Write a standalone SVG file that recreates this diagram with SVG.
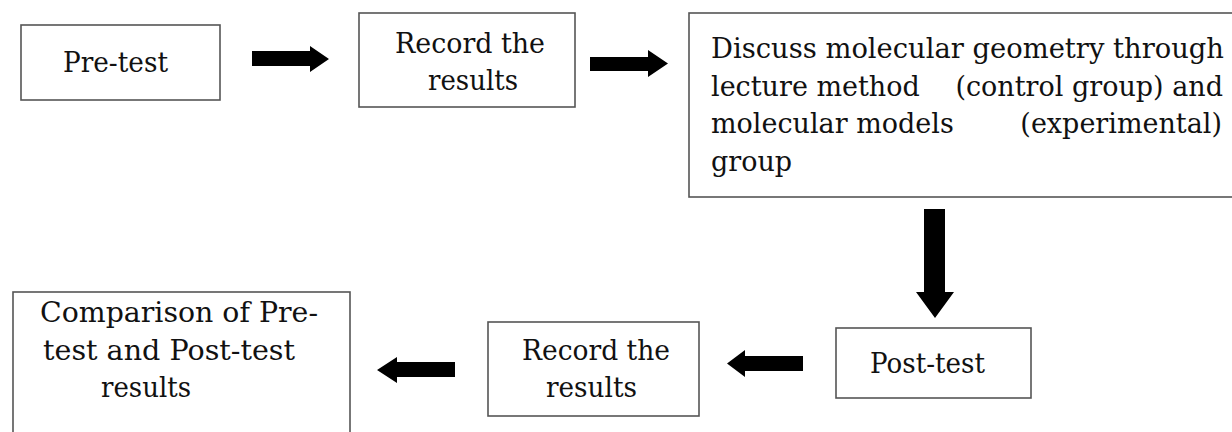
<svg xmlns="http://www.w3.org/2000/svg" width="1232" height="432" viewBox="0 0 1232 432">
<style>
.box{fill:#fff;stroke:#555;stroke-width:1.6}
.t{font-family:"DejaVu Serif","Liberation Serif",serif;font-size:27px;fill:#111}
.arr{fill:#000}
</style>
<rect width="1232" height="432" fill="#fff"/>
<g id="pretest">
<rect class="box" x="21" y="25" width="199" height="75"/>
<text class="t" x="63" y="72" textLength="105" lengthAdjust="spacingAndGlyphs">Pre-test</text>
</g>
<g id="record1">
<rect class="box" x="359" y="13" width="216" height="94"/>
<text class="t" x="395" y="53" textLength="150" lengthAdjust="spacingAndGlyphs">Record the</text>
<text class="t" x="428" y="90" textLength="90" lengthAdjust="spacingAndGlyphs">results</text>
</g>
<g id="discuss">
<rect class="box" x="689" y="13" width="560" height="184"/>
<text class="t" x="711" y="58" textLength="513" lengthAdjust="spacingAndGlyphs">Discuss molecular geometry through</text>
<text class="t" x="711" y="95.5">lecture method</text>
<text class="t" x="1223" y="95.5" text-anchor="end">(control group) and</text>
<text class="t" x="711" y="133">molecular models</text>
<text class="t" x="1222" y="133" text-anchor="end">(experimental)</text>
<text class="t" x="711" y="170.5">group</text>
</g>
<g id="posttest">
<rect class="box" x="836" y="328" width="195" height="70"/>
<text class="t" x="870" y="373" textLength="115" lengthAdjust="spacingAndGlyphs">Post-test</text>
</g>
<g id="record2">
<rect class="box" x="488" y="322" width="211" height="94"/>
<text class="t" x="522" y="360" textLength="148" lengthAdjust="spacingAndGlyphs">Record the</text>
<text class="t" x="546" y="397" textLength="91" lengthAdjust="spacingAndGlyphs">results</text>
</g>
<g id="comparison">
<rect class="box" x="13" y="292" width="337" height="150"/>
<text class="t" x="40" y="322" textLength="278" lengthAdjust="spacingAndGlyphs">Comparison of Pre-</text>
<text class="t" x="43" y="359.5" textLength="252" lengthAdjust="spacingAndGlyphs">test and Post-test</text>
<text class="t" x="101" y="397" textLength="90" lengthAdjust="spacingAndGlyphs">results</text>
</g>
<g id="connectors">
<polygon class="arr" points="252,51 310,51 310,46 329,59 310,72 310,66 252,66"/>
<polygon class="arr" points="590,57 648,57 648,50 668,63.5 648,77 648,71 590,71"/>
<polygon class="arr" points="924,209 945,209 945,292 954,292 935,318 916,292 924,292"/>
<polygon class="arr" points="803,356 745,356 745,350 727,363.5 745,377 745,371 803,371"/>
<polygon class="arr" points="455,362 397,362 397,357 377,370 397,383 397,377 455,377"/>
</g>
</svg>
